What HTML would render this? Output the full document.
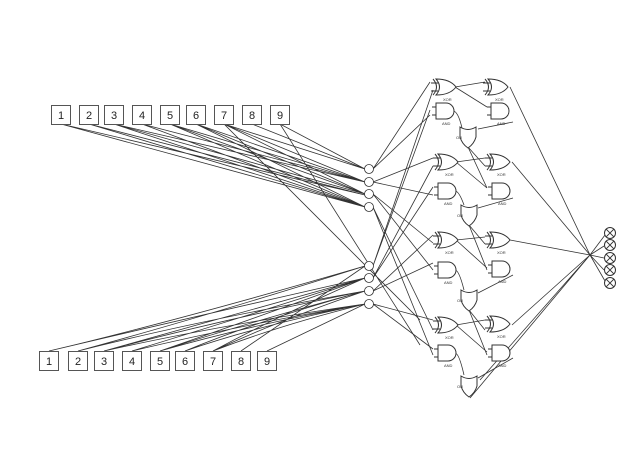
<!DOCTYPE html>
<html><head><style>
html,body{margin:0;padding:0;background:#fff;}
svg{display:block;}
text{font-family:"Liberation Sans",sans-serif;}
</style></head><body>
<svg width="640" height="453" viewBox="0 0 640 453" xmlns="http://www.w3.org/2000/svg">
<defs>
<g id="xor"><path d="M0,0 Q7,8 0,16 Q14,16 20,8 Q14,0 0,0 Z" fill="#fff" stroke="#333" stroke-width="1"/><path d="M-3,0 Q4,8 -3,16" fill="none" stroke="#333"/><line x1="-5" y1="4" x2="2" y2="4" stroke="#333"/><line x1="-5" y1="12" x2="2" y2="12" stroke="#333"/><text x="7" y="22" font-size="4" fill="#333">XOR</text></g>
<g id="and"><path d="M0,0 H10 A8,8 0 0 1 10,16 H0 Z" fill="#fff" stroke="#333"/><line x1="-4" y1="4" x2="0" y2="4" stroke="#333"/><line x1="-4" y1="12" x2="0" y2="12" stroke="#333"/><text x="6" y="22" font-size="4" fill="#333">AND</text></g>
<g id="or"><path d="M0,0 Q8,5 16,0 L16,10 Q14,17 8,21 Q2,17 0,10 Z" fill="#fff" stroke="#333"/><text x="-4" y="12" font-size="4" fill="#333">OR</text></g>
<g id="out"><circle r="5.5" fill="#fff" stroke="#333"/><path d="M-3.8,-3.8 L3.8,3.8 M3.8,-3.8 L-3.8,3.8" stroke="#333"/></g>
</defs>
<g stroke="#333" stroke-width="0.8" fill="none">
<path d="M61,124 L365,195 M61,124 L365,207 M89,124 L365,195 M89,124 L365,207 M114,124 L365,182 M114,124 L365,194 M114,124 L365,207 M142,124 L365,182 M142,124 L365,207 M170,124 L365,182 M170,124 L365,194 M170,124 L365,207 M196,124 L365,182 M196,124 L365,194 M196,124 L365,207 M224,124 L365,169 M224,124 L365,182 M224,124 L365,194 M224,124 L420,320 M252,124 L365,169 M280,124 L365,169 M280,124 L420,345"/>
<path d="M49,351 Q180,320 365,266 M49,351 Q180,320 365,278 M78,351 Q200,318 365,266 M78,351 Q200,320 365,291 M104,351 Q220,318 365,278 M104,351 Q220,320 365,291 M104,351 Q220,325 365,304 M132,351 Q240,318 365,278 M132,351 Q240,325 365,304 M160,351 Q250,320 365,278 M160,351 Q250,322 365,291 M160,351 Q250,325 365,304 M185,351 Q260,320 365,291 M185,351 Q260,325 365,304 M213,351 Q280,315 365,278 M213,351 Q280,320 365,291 M213,351 Q280,325 365,304 M241,351 L365,266 M267,351 L365,304"/>
<path d="M373,169 L430,82 M373,169 L430,115 M373,182 L433,158 M373,182 L433,195 M373,194 L433,243 M373,194 L433,270 M373,207 L433,330 M373,207 L433,355 M373,266 L433,90 M373,266 L430,110 M373,278 L433,166 M373,278 L433,187 M373,291 L433,235 M373,291 L433,263 M373,304 L433,320 M373,304 L433,349"/>
<path d="M455,87 L485,82 M455,87 L487,107 M453,111 Q458,111 462,128 M468,147 L485,166 M468,147 L487,188 M478,129 L513,122 M456,162 L485,158 M456,162 L487,188 M455,191 Q459,191 464,205 M469,225 L485,244 M469,225 L487,270 M478,208 L513,198 M456,240 L485,237 M456,240 L487,268 M455,270 Q459,270 464,290 M469,310 L485,330 M469,310 L487,355 M478,293 L513,275 M456,325 L485,320 M456,325 L487,352 M455,353 Q459,353 464,375 M478,378 L513,358"/>
<path d="M510,87 L590,255 M512,162 L590,255 M510,240 L590,255 M512,325 L590,255 M470,398 L590,255 M480,380 L590,255 M590,255 L605,235 M590,255 L604,246 M590,255 L604,258 M590,255 L604,270 M590,255 L605,281"/>
</g>
<g fill="#fff" stroke="#333" stroke-width="0.8">
<circle cx="369" cy="169" r="4.5"/><circle cx="369" cy="182" r="4.5"/><circle cx="369" cy="194" r="4.5"/><circle cx="369" cy="207" r="4.5"/>
<circle cx="369" cy="266" r="4.5"/><circle cx="369" cy="278" r="4.5"/><circle cx="369" cy="291" r="4.5"/><circle cx="369" cy="304" r="4.5"/>
</g>
<use href="#xor" x="436" y="79"/><use href="#and" x="436" y="103"/><use href="#or" x="460" y="127"/>
<use href="#xor" x="488" y="79"/><use href="#and" x="491" y="103"/>
<use href="#xor" x="438" y="154"/><use href="#and" x="438" y="183"/><use href="#or" x="461" y="205"/>
<use href="#xor" x="490" y="154"/><use href="#and" x="492" y="183"/>
<use href="#xor" x="438" y="232"/><use href="#and" x="438" y="262"/><use href="#or" x="461" y="290"/>
<use href="#xor" x="490" y="232"/><use href="#and" x="492" y="261"/>
<use href="#xor" x="438" y="317"/><use href="#and" x="438" y="345"/><use href="#or" x="461" y="376"/>
<use href="#xor" x="490" y="316"/><use href="#and" x="492" y="345"/>
<use href="#out" x="610" y="233"/><use href="#out" x="610" y="245"/><use href="#out" x="610" y="258"/><use href="#out" x="610" y="270"/><use href="#out" x="610" y="283"/>
<g fill="#fff" stroke="#555" stroke-width="1">
<rect x="51.5" y="105.5" width="19" height="19"/><rect x="79.5" y="105.5" width="19" height="19"/><rect x="104.5" y="105.5" width="19" height="19"/><rect x="132.5" y="105.5" width="19" height="19"/><rect x="160.5" y="105.5" width="19" height="19"/><rect x="186.5" y="105.5" width="19" height="19"/><rect x="214.5" y="105.5" width="19" height="19"/><rect x="242.5" y="105.5" width="19" height="19"/><rect x="270.5" y="105.5" width="19" height="19"/>
<rect x="39.5" y="351.5" width="19" height="19"/><rect x="68.5" y="351.5" width="19" height="19"/><rect x="94.5" y="351.5" width="19" height="19"/><rect x="122.5" y="351.5" width="19" height="19"/><rect x="150.5" y="351.5" width="19" height="19"/><rect x="175.5" y="351.5" width="19" height="19"/><rect x="203.5" y="351.5" width="19" height="19"/><rect x="231.5" y="351.5" width="19" height="19"/><rect x="257.5" y="351.5" width="19" height="19"/>
</g>
<g font-size="11" fill="#222" text-anchor="middle">
<text x="61" y="119">1</text><text x="89" y="119">2</text><text x="114" y="119">3</text><text x="142" y="119">4</text><text x="170" y="119">5</text><text x="196" y="119">6</text><text x="224" y="119">7</text><text x="252" y="119">8</text><text x="280" y="119">9</text>
<text x="49" y="365">1</text><text x="78" y="365">2</text><text x="104" y="365">3</text><text x="132" y="365">4</text><text x="160" y="365">5</text><text x="185" y="365">6</text><text x="213" y="365">7</text><text x="241" y="365">8</text><text x="267" y="365">9</text>
</g>
</svg>
</body></html>
